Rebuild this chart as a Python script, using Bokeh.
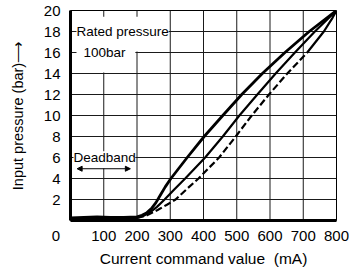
from bokeh.plotting import figure
from bokeh.models import Range1d, FixedTicker, Arrow, NormalHead
from bokeh.core.properties import value
from bokeh.embed import file_html
from bokeh.resources import INLINE

FONT = "Liberation Sans"

# ---- data ----
x_ticks = [0, 100, 200, 300, 400, 500, 600, 700, 800]
y_ticks = [2, 4, 6, 8, 10, 12, 14, 16, 18, 20]

upper_x = [0, 40, 80, 120, 160, 200, 215, 230, 245, 257, 270, 285, 302, 351, 402, 458, 515, 577, 645, 718, 800]
upper_y = [0.25, 0.3, 0.35, 0.3, 0.3, 0.35, 0.5, 0.75, 1.2, 1.7, 2.4, 3.2, 4.0, 6.0, 8.0, 10.0, 12.0, 14.0, 16.0, 18.0, 20.0]

middle_x = [0, 100, 200, 220, 240, 260, 283, 312, 345, 405, 458, 508, 562, 617, 675, 735, 800]
middle_y = [0.15, 0.2, 0.25, 0.45, 0.8, 1.3, 2.0, 2.95, 4.0, 6.0, 8.0, 10.0, 12.0, 14.0, 16.0, 18.0, 20.0]

lower_x = [200, 230, 262, 290, 316, 350, 385, 447, 497, 545, 597, 652, 712, 762, 788, 800]
lower_y = [0.25, 0.5, 1.0, 1.5, 2.0, 3.0, 4.0, 6.0, 8.0, 10.0, 12.0, 14.0, 16.0, 18.0, 19.3, 20.0]
lower_solid_from = 12  # index where the lower curve turns solid

X0, X1, Y0, Y1 = 0, 800, 0, 20

p = figure(width=349, height=269, output_backend="svg", toolbar_location=None,
           x_range=Range1d(X0, X1), y_range=Range1d(Y0, Y1),
           min_border_left=70, min_border_right=13, min_border_top=10, min_border_bottom=45)
p.background_fill_color = "white"
p.border_fill_color = "white"
p.outline_line_color = "black"
p.outline_line_width = 1
p.grid.visible = False

for ax in (p.xaxis[0], p.yaxis[0]):
    ax.axis_line_width = 3
    ax.axis_line_color = "black"
    ax.major_tick_out = 0
    ax.major_tick_in = 0
    ax.minor_tick_out = 0
    ax.minor_tick_in = 0
    ax.major_label_text_font = FONT
    ax.major_label_text_font_size = "15px"
    ax.major_label_text_color = "black"
    ax.axis_label_text_font = FONT
    ax.axis_label_text_font_style = "normal"
    ax.axis_label_text_color = "black"

p.xaxis.axis_label_text_font_size = "15.5px"
p.yaxis.axis_label_text_font_size = "14.5px"
p.xaxis.ticker = FixedTicker(ticks=x_ticks)
p.yaxis.ticker = FixedTicker(ticks=y_ticks)
p.xaxis.major_label_overrides = {0: "0" + "\u00a0" * 7}
p.xaxis.major_label_standoff = 6
p.yaxis.major_label_standoff = 10
p.xaxis.axis_label = "Current command value\u00a0 (mA)"
p.yaxis.axis_label = "Input pressure (bar)\u27f6"
p.xaxis.axis_label_standoff = 3
p.yaxis.axis_label_standoff = 15

# grid lines drawn from the tick lists
gx = [t for t in x_ticks if X0 < t < X1]
gy = [t for t in y_ticks if Y0 < t < Y1]
p.segment(x0=gx, y0=[Y0] * len(gx), x1=gx, y1=[Y1] * len(gx), line_color="#1a1a1a", line_width=1)
p.segment(x0=[X0] * len(gy), y0=gy, x1=[X1] * len(gy), y1=gy, line_color="#1a1a1a", line_width=1)

# white masks behind the annotation texts
p.quad(left=[18, 18, 205, 9], right=[205, 195, 295, 195],
       bottom=[16.1, 14.1, 17.4, 4.95], top=[19.4, 16.1, 18.6, 6.6],
       fill_color="white", line_color=None)

# curves
p.line(upper_x, upper_y, line_color="black", line_width=2.8, line_join="round")
p.line(middle_x, middle_y, line_color="black", line_width=2.2, line_join="round")
p.line(lower_x[:lower_solid_from + 1], lower_y[:lower_solid_from + 1], line_color="black",
       line_width=2.2, line_dash="7 3")
p.line(lower_x[lower_solid_from:], lower_y[lower_solid_from:], line_color="black",
       line_width=2.2, line_join="round")

# annotations
p.text(x=[18], y=[18], text=["Rated pressure"], text_font=value(FONT), text_font_size="13.5px",
       text_baseline="middle", text_align="left", text_color="black")
p.text(x=[39], y=[16], text=["100bar"], text_font=value(FONT), text_font_size="13.5px",
       text_baseline="middle", text_align="left", text_color="black")
p.text(x=[9], y=[6], text=["Deadband"], text_font=value(FONT), text_font_size="13.5px",
       text_baseline="middle", text_align="left", text_color="black")

p.add_layout(Arrow(start=NormalHead(size=5, fill_color="black", line_color="black"),
                   end=NormalHead(size=5, fill_color="black", line_color="black"),
                   x_start=20, y_start=4.93, x_end=180, y_end=4.93,
                   line_width=1, line_color="black"))

open("out.html", "w").write(file_html(p, INLINE))
